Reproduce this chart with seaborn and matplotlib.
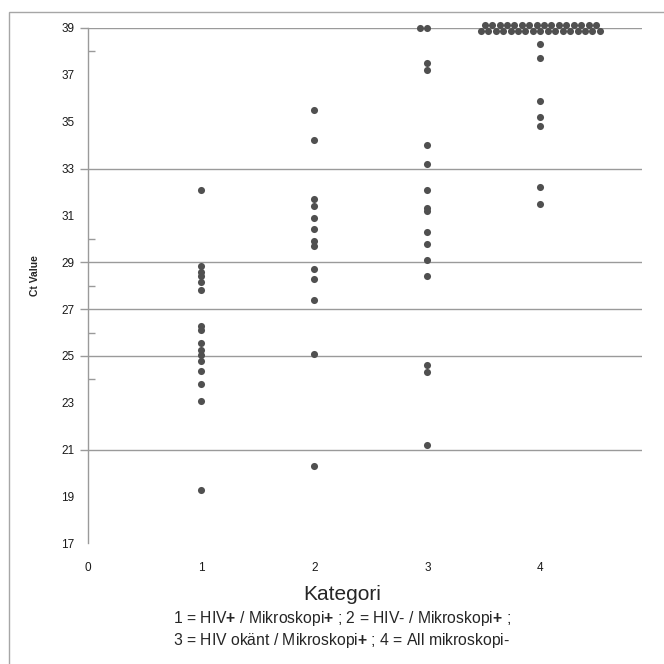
import matplotlib
matplotlib.use("Agg")
import pandas as pd
import matplotlib.pyplot as plt
import seaborn as sns
from seaborn import categorical
from matplotlib.patches import Rectangle

# Ct values per category
cat1_ct = [32.1, 28.85, 28.6, 28.4, 28.15, 27.8, 26.3, 26.1, 25.55, 25.25,
           25.05, 24.8, 24.35, 23.8, 23.1, 19.3]
cat2_ct = [35.5, 34.2, 31.7, 31.4, 30.9, 30.4, 29.9, 29.7, 28.7, 28.3,
           27.4, 25.1, 20.3]
cat3_ct = [37.5, 37.2, 34.0, 33.2, 32.1, 31.3, 31.2, 30.3, 29.8, 29.1,
           28.4, 24.6, 24.3, 21.2]
cat4_ct = [38.3, 37.7, 35.9, 35.2, 34.8, 32.2, 31.5]

# samples stacked at the top of the scale (no Ct)
cat3_top = [39.0, 39.0]
cat4_top = [39.13] * 16 + [38.87] * 17

x_ticks = [0, 1, 2, 3, 4]
y_ticks = [17, 19, 21, 23, 25, 27, 29, 31, 33, 35, 37, 39]
grid_vals = [21, 25, 27, 29, 33, 39]
inner_ticks = [24, 26, 28, 30, 38]

x_label = "Kategori"
y_label = "Ct Value"
note_lines = [r"1 = HIV$\mathbf{+}$ / Mikroskopi$\mathbf{+}$ ; 2 = HIV- / Mikroskopi$\mathbf{+}$ ;",
              r"3 = HIV okänt / Mikroskopi$\mathbf{+}$ ; 4 = All mikroskopi-"]

dot_color = "#505050"
line_color = "#9a9a9a"


# the top cluster in category 4 is wider than seaborn's default swarm width
class WideBeeswarm(categorical.Beeswarm):
    def __init__(self, orient="x", width=0.8, warn_thresh=0.05):
        super().__init__(orient=orient, width=width * 1.5, warn_thresh=warn_thresh)


categorical.Beeswarm = WideBeeswarm

rows = []
for cat, vals in zip([1, 2, 3, 4], [cat1_ct, cat2_ct, cat3_ct, cat4_ct]):
    rows += [{"Kategori": cat, "Ct": v} for v in vals]
df = pd.DataFrame(rows)

top_rows = []
for cat, vals in zip([3, 4], [cat3_top, cat4_top]):
    top_rows += [{"Kategori": cat, "Ct": v} for v in vals]
df_top = pd.DataFrame(top_rows)

sns.set_theme(style="white")
plt.rcParams["font.family"] = ["Liberation Sans", "DejaVu Sans"]
plt.rcParams["mathtext.fontset"] = "custom"
plt.rcParams["mathtext.rm"] = "Liberation Sans"
plt.rcParams["mathtext.bf"] = "Liberation Sans:bold"

fig = plt.figure(figsize=(6.64, 6.64), dpi=100)
ax = fig.add_axes([0.133, 0.1815, 0.834, 0.7765])

sns.stripplot(data=df, x="Kategori", y="Ct", native_scale=True, jitter=False,
              color=dot_color, size=5.1, linewidth=0, ax=ax)
sns.swarmplot(data=df_top, x="Kategori", y="Ct", native_scale=True,
              color=dot_color, size=5.1, linewidth=0, ax=ax, clip_on=False)

ax.set_xlim(0, 4.9)
ax.set_ylim(17, 39)

# gridline ticks sit on labelled values, so keep overlapping minor ticks
ax.yaxis.remove_overlapping_locs = False
ax.set_yticks(y_ticks)
ax.set_yticks(grid_vals, minor=True)
ax.tick_params(axis="y", which="major", length=0, pad=10, labelsize=8.5, labelcolor="#1a1a1a")
ax.tick_params(axis="y", which="minor", left=True, direction="out", length=6,
               width=1, color=line_color)
ax.grid(False)
ax.grid(True, axis="y", which="minor", color=line_color, linewidth=1)

sec = ax.secondary_yaxis("left")
sec.set_yticks(inner_ticks)
sec.tick_params(axis="y", left=True, direction="in", length=5, width=1,
                color=line_color, labelleft=False)
sec.spines["left"].set_visible(False)

ax.set_xticks(x_ticks)
ax.tick_params(axis="x", length=0, pad=13, labelsize=8.5, labelcolor="#1a1a1a")
ax.set_xlabel("")

for side in ["top", "right", "bottom"]:
    ax.spines[side].set_visible(False)
ax.spines["left"].set_color(line_color)
ax.spines["left"].set_linewidth(1)

ax.set_ylabel(y_label, fontsize=7.5, fontweight="bold")
ax.yaxis.set_label_coords(-0.087, 0.52)

fig.text(0.515, 1 - 594 / 664, x_label, ha="center", va="center", fontsize=15)
fig.text(0.515, 1 - 619 / 664, note_lines[0], ha="center", va="center", fontsize=11.3)
fig.text(0.515, 1 - 641 / 664, note_lines[1], ha="center", va="center", fontsize=11.3)

fig.add_artist(Rectangle((9 / 664, -0.05), 1.2, 1 - 12 / 664 + 0.05,
                         transform=fig.transFigure, fill=False,
                         edgecolor="#a6a6a6", linewidth=1))

plt.savefig("out.png", dpi=100)
plt.close()
